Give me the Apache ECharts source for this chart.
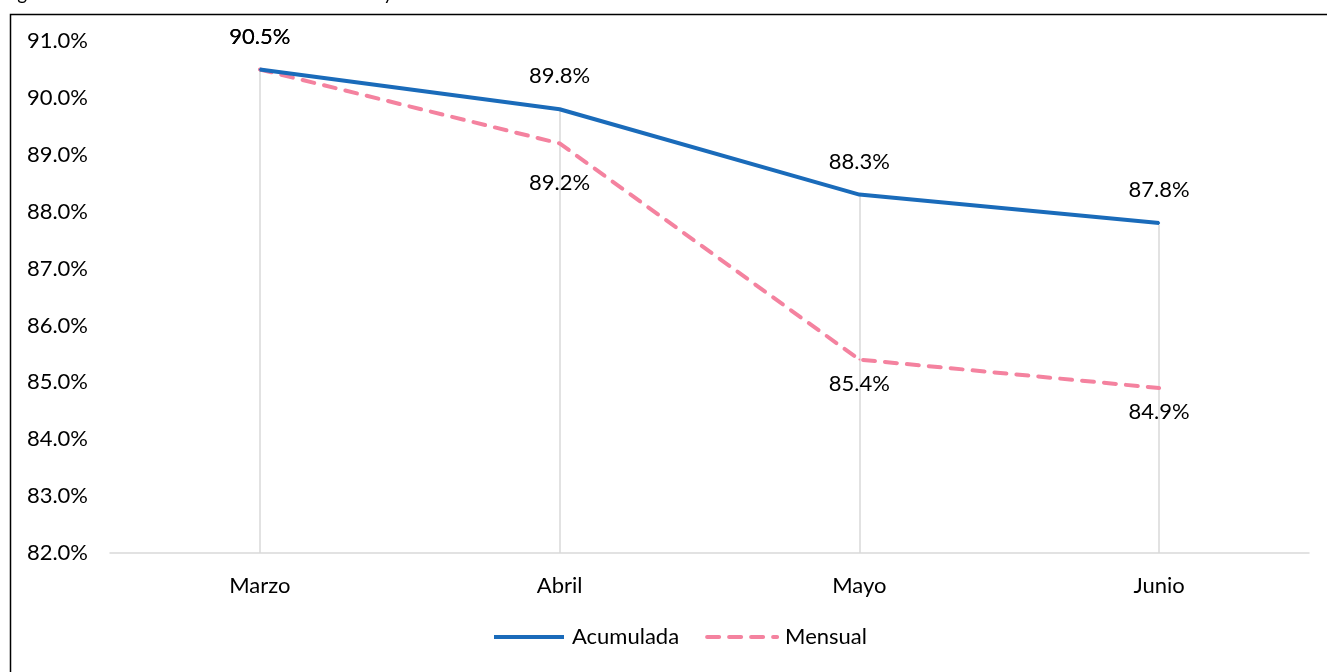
<!DOCTYPE html>
<html>
<head>
<meta charset="utf-8">
<script src="https://cdn.jsdelivr.net/npm/echarts@6/dist/echarts.min.js"></script>
<style>
html,body{margin:0;padding:0;background:#fff;}
#main{width:1327px;height:672px;}
</style>
</head>
<body>
<div id="main"></div>
<script>
var titleText = 'Figura 2. Relación entre la existencia mensual y la acumulada';
var categories = ['Marzo', 'Abril', 'Mayo', 'Junio'];
var acumulada = [90.5, 89.8, 88.3, 87.8];
var mensual = [90.5, 89.2, 85.4, 84.9];
var yMin = 82, yMax = 91, yStep = 1;

var FONT = 'Lato';
var FS = 22;
var chart = echarts.init(document.getElementById('main'), null, {renderer: 'canvas'});

var dropLines = categories.map(function (c, i) {
  return [{coord: [c, yMin]}, {coord: [c, Math.max(acumulada[i], mensual[i])]}];
});
function pct(p) { return p.value.toFixed(1) + '%'; }

var option = {
  backgroundColor: '#fff',
  animation: false,
  textStyle: {fontFamily: FONT},
  graphic: [
    {type: 'rect', left: 8, top: 12, shape: {x: 0, y: 0, width: 1400, height: 700}, style: {fill: 'none', stroke: '#000', lineWidth: 1.5}, silent: true},
    {type: 'text', left: 2, top: -16, style: {text: titleText, font: '19px ' + FONT, fill: '#000'}, silent: true}
  ],
  grid: {left: 110, right: 18, top: 41, bottom: 119},
  legend: {
    bottom: 19, left: 487,
    itemWidth: 70, itemHeight: 14, itemGap: 26,
    itemStyle: {opacity: 0},
    lineStyle: {width: 4},
    textStyle: {fontSize: FS, color: '#000', fontFamily: FONT, padding: [0, 0, 0, 3]},
    data: ['Acumulada', 'Mensual']
  },
  xAxis: {
    type: 'category', data: categories, boundaryGap: true,
    axisLine: {lineStyle: {color: '#d9d9d9', width: 1.5}},
    axisTick: {show: false},
    axisLabel: {color: '#000', fontSize: FS, margin: 22, fontFamily: FONT}
  },
  yAxis: {
    type: 'value', min: yMin, max: yMax, interval: yStep,
    axisLine: {show: false}, axisTick: {show: false},
    splitLine: {show: false},
    axisLabel: {color: '#000', fontSize: FS, margin: 22, fontFamily: FONT,
      formatter: function (v) { return v.toFixed(1) + '%'; }}
  },
  series: [
    {
      name: 'Acumulada', type: 'line', data: acumulada, z: 3,
      symbol: 'circle', symbolSize: 2, showSymbol: true,
      lineStyle: {color: '#1a6bba', width: 4},
      itemStyle: {color: '#1a6bba'},
      label: {show: true, position: 'top', distance: 21, color: '#000', fontSize: FS, fontFamily: FONT, formatter: pct},
      markLine: {
        silent: true, symbol: 'none', z: 1,
        lineStyle: {color: '#d9d9d9', width: 1.5, type: 'solid'},
        label: {show: false},
        data: dropLines
      }
    },
    {
      name: 'Mensual', type: 'line', z: 2,
      data: mensual.map(function (v, i) {
        return i === 0 ? {value: v, label: {position: 'top', distance: 21}} :
          {value: v, label: {position: 'bottom', distance: i === 1 ? 28 : 12}};
      }),
      symbol: 'circle', symbolSize: 2, showSymbol: true,
      lineStyle: {color: '#f4829f', width: 4, type: [12, 10], cap: 'round'},
      itemStyle: {color: '#f4829f'},
      label: {show: true, color: '#000', fontSize: FS, fontFamily: FONT, formatter: pct}
    }
  ]
};
chart.setOption(option);
</script>
</body>
</html>
